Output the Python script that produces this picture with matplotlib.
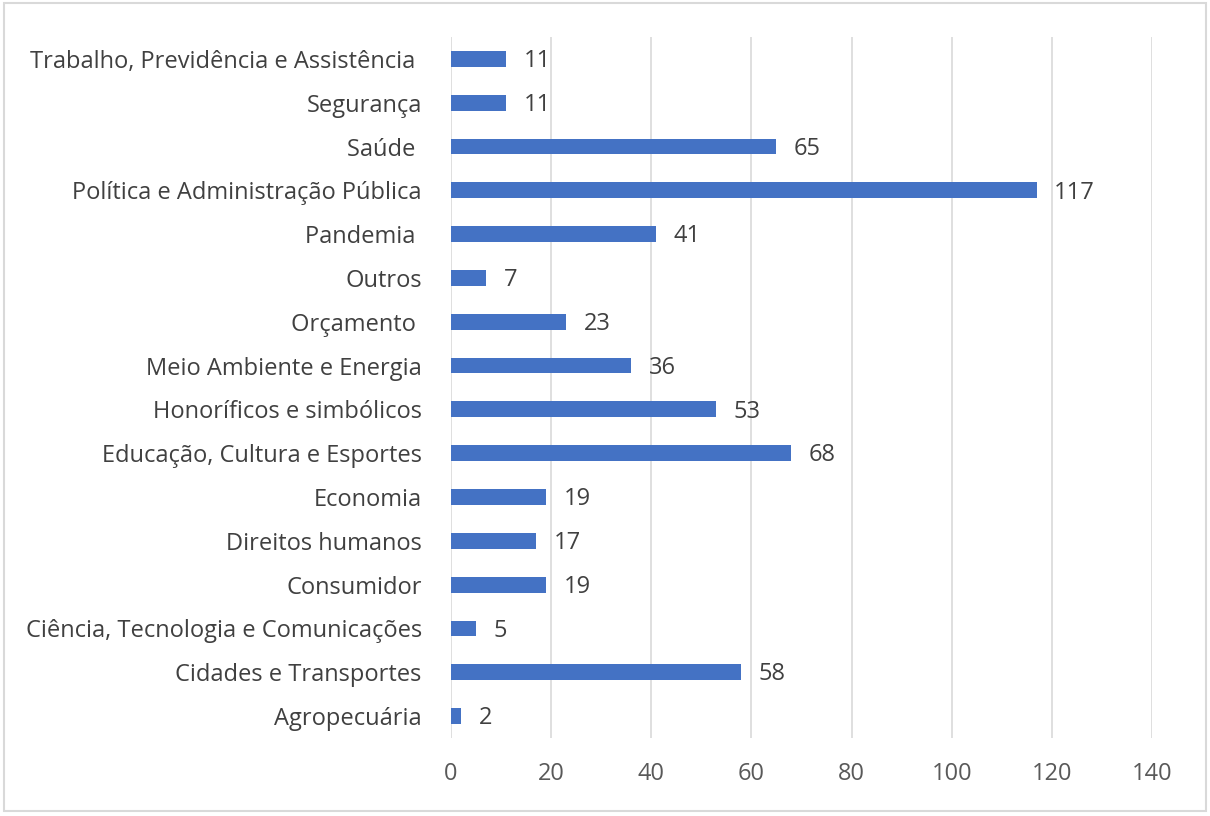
import numpy as np
import matplotlib.pyplot as plt
from matplotlib.patches import Rectangle

plt.rcParams['font.family'] = ['Open Sans', 'DejaVu Sans']

categorias = ["Agropecuária", "Cidades e Transportes", "Ciência, Tecnologia e Comunicações",
              "Consumidor", "Direitos humanos", "Economia", "Educação, Cultura e Esportes",
              "Honoríficos e simbólicos", "Meio Ambiente e Energia", "Orçamento ", "Outros",
              "Pandemia ", "Política e Administração Pública", "Saúde ", "Segurança",
              "Trabalho, Previdência e Assistência "]
valores = [2, 58, 5, 19, 17, 19, 68, 53, 36, 23, 7, 41, 117, 65, 11, 11]
xticks = [0, 20, 40, 60, 80, 100, 120, 140]

fig = plt.figure(figsize=(12.1, 8.16), dpi=100)
ax = fig.add_axes([0.3727, 0.0956, 0.5793, 0.8591])

y = np.arange(len(categorias))
ax.barh(y, valores, height=0.36, color='#4472C4', zorder=3)
for yi, v in zip(y, valores):
    ax.text(v + 3.5, yi - 0.05, str(v), va='center', ha='left', fontsize=17, color='#404040')

ax.set_yticks(y)
ax.set_yticklabels(categorias, fontsize=17, color='#404040')
ax.set_xticks(xticks)
ax.set_xticklabels([str(t) for t in xticks], fontsize=17, color='#595959')
ax.set_xlim(0, 140)
ax.set_ylim(-0.5, len(categorias) - 0.5)
ax.grid(axis='x', color='#d9d9d9', linewidth=1.2, zorder=0)
ax.tick_params(axis='both', length=0)
ax.tick_params(axis='y', pad=21)
ax.tick_params(axis='x', pad=17)
for s in ax.spines.values():
    s.set_visible(False)

fig.patches.append(Rectangle((0.003, 0.006), 0.994, 0.99, transform=fig.transFigure,
                             fill=False, edgecolor='#d9d9d9', linewidth=1.5))

fig.savefig('out.png', dpi=100)
